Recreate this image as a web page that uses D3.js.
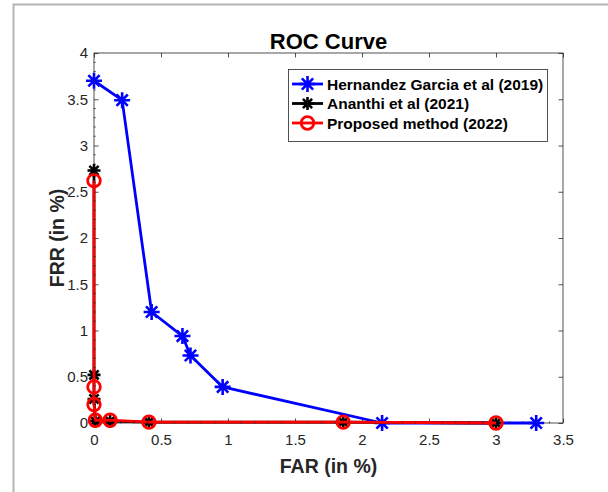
<!DOCTYPE html>
<html><head><meta charset="utf-8">
<script src="https://cdn.jsdelivr.net/npm/d3@7"></script>
<style>body{margin:0;background:#fff}svg{display:block}</style>
</head><body>
<script>
// ---- data ----
const seriesNames = ["Hernandez Garcia et al (2019)", "Ananthi et al (2021)", "Proposed method (2022)"];
const hgFAR = [0, 0.21, 0.43, 0.66, 0.72, 0.96, 2.15, 3.3];
const hgFRR = [3.7, 3.49, 1.2, 0.94, 0.73, 0.39, 0, 0];
const anFAR = [0, 0, 0, 0.01, 0.12, 0.41, 1.86, 3.0];
const anFRR = [2.73, 0.52, 0.26, 0.02, 0.02, 0.01, 0.01, 0];
const prFAR = [0, 0, 0, 0.01, 0.12, 0.41, 1.86, 3.0];
const prFRR = [2.62, 0.39, 0.2, 0.03, 0.03, 0.01, 0.01, 0];
const xTicks = [0, 0.5, 1, 1.5, 2, 2.5, 3, 3.5];
const yTicks = [0, 0.5, 1, 1.5, 2, 2.5, 3, 3.5, 4];
const titleText = "ROC Curve", xLabel = "FAR (in %)", yLabel = "FRR (in %)";

const W = 608, H = 492;
const svg = d3.select("body").append("svg").attr("width", W).attr("height", H);
const font = "'Liberation Sans', Arial, Helvetica, sans-serif";

// figure frame
svg.append("path").attr("d", `M13.5,${H} V4.5 H${W}`).attr("fill","none").attr("stroke","#b4b4b4").attr("stroke-width",2);

const L = 94, R = 563, T = 53, B = 423;
const x = d3.scaleLinear().domain([0, 3.5]).range([L, R]);
const y = d3.scaleLinear().domain([0, 4]).range([B, T]);
const axCol = "#262626";

// axes box
const g = svg.append("g");
g.append("rect").attr("x", L).attr("y", T).attr("width", R-L).attr("height", B-T)
  .attr("fill","none").attr("stroke", axCol).attr("stroke-width", 0.8);

// major ticks via d3 axes
const tl = 4.5;
const xb = d3.axisBottom(x).tickValues(xTicks).tickSize(-tl).tickPadding(11).tickFormat(d3.format("~g"));
const xt = d3.axisTop(x).tickValues(xTicks).tickSize(-tl).tickFormat("");
const yl = d3.axisLeft(y).tickValues(yTicks).tickSize(-tl).tickPadding(6).tickFormat(d3.format("~g"));
const yr = d3.axisRight(y).tickValues(yTicks).tickSize(-tl).tickFormat("");
function styleAxis(sel){
  sel.select(".domain").remove();
  sel.selectAll("line").attr("stroke", axCol).attr("stroke-width", 0.8);
  sel.selectAll("text").attr("fill", axCol).style("font-family", font).style("font-size","15px");
}
g.append("g").attr("transform",`translate(0,${B})`).call(xb).call(styleAxis);
g.append("g").attr("transform",`translate(0,${T})`).call(xt).call(styleAxis);
g.append("g").attr("transform",`translate(${L},0)`).call(yl).call(styleAxis);
g.append("g").attr("transform",`translate(${R},0)`).call(yr).call(styleAxis);

// series
function asterisk(s){
  const d = s*0.7071;
  return `M${-s},0H${s}M0,${-s}V${s}M${-d},${-d}L${d},${d}M${-d},${d}L${d},${-d}`;
}
const series = [
  {fx: hgFAR, fy: hgFRR, color: "#0000ff", marker: "star", ms: 8},
  {fx: anFAR, fy: anFRR, color: "#000000", marker: "star", ms: 6.5},
  {fx: prFAR, fy: prFRR, color: "#ff0000", marker: "circle", ms: 6.3}
];
const line = d3.line().x(d => x(d[0])).y(d => y(d[1]));
series.forEach(s => {
  const pts = s.fx.map((v,i) => [v, s.fy[i]]);
  const sg = svg.append("g");
  sg.append("path").datum(pts).attr("d", line).attr("fill","none")
    .attr("stroke", s.color).attr("stroke-width", 2.8).attr("stroke-linejoin","round");
  pts.forEach(p => {
    if (s.marker === "star") {
      sg.append("path").attr("transform",`translate(${x(p[0])},${y(p[1])})`)
        .attr("d", asterisk(s.ms)).attr("stroke", s.color).attr("stroke-width", 2.6).attr("fill","none");
    } else {
      sg.append("circle").attr("cx", x(p[0])).attr("cy", y(p[1])).attr("r", s.ms)
        .attr("fill","none").attr("stroke", s.color).attr("stroke-width", 2.8);
    }
  });
});

// minor ticks (bottom & left)
const minorX = d3.range(0, 3.5001, 0.1).filter(v => Math.abs(v*2 - Math.round(v*2)) > 1e-6);
const minorY = d3.range(0, 4.0001, 0.1).filter(v => Math.abs(v*2 - Math.round(v*2)) > 1e-6);
const mt = svg.append("g").attr("stroke", axCol).attr("stroke-width", 0.7);
minorX.forEach(v => mt.append("line").attr("x1", x(v)).attr("x2", x(v)).attr("y1", B+0.5).attr("y2", B-1.8));
minorY.forEach(v => mt.append("line").attr("y1", y(v)).attr("y2", y(v)).attr("x1", L-0.5).attr("x2", L+1.8));

// title & labels
svg.append("text").attr("x", (L+R)/2).attr("y", 49).attr("text-anchor","middle")
  .style("font-family", font).style("font-size","22px").style("font-weight","bold").attr("fill","#000").text(titleText);
svg.append("text").attr("x", (L+R)/2).attr("y", 473).attr("text-anchor","middle")
  .style("font-family", font).style("font-size","19.5px").style("font-weight","bold").attr("fill", axCol).text(xLabel);
svg.append("text").attr("transform", `translate(64,${(T+B)/2}) rotate(-90)`).attr("text-anchor","middle")
  .style("font-family", font).style("font-size","19.5px").style("font-weight","bold").attr("fill", axCol).text(yLabel);

// legend
const lg = svg.append("g");
lg.append("rect").attr("x", 288.5).attr("y", 69.5).attr("width", 259).attr("height", 72)
  .attr("fill","#fff").attr("stroke", axCol).attr("stroke-width", 0.8);
series.forEach((s, i) => {
  const yy = 84 + i*19.5;
  lg.append("line").attr("x1", 292).attr("x2", 323).attr("y1", yy).attr("y2", yy)
    .attr("stroke", s.color).attr("stroke-width", 2.8);
  if (s.marker === "star") {
    lg.append("path").attr("transform",`translate(307.5,${yy})`).attr("d", asterisk(s.ms))
      .attr("stroke", s.color).attr("stroke-width", 2.6).attr("fill","none");
  } else {
    lg.append("circle").attr("cx", 307.5).attr("cy", yy).attr("r", s.ms).attr("fill","none")
      .attr("stroke", s.color).attr("stroke-width", 2.8);
  }
  lg.append("text").attr("x", 327).attr("y", yy + 5.5).style("font-family", font)
    .style("font-size","15.5px").style("font-weight","bold").attr("fill","#000").text(seriesNames[i]);
});
</script>
</body></html>
